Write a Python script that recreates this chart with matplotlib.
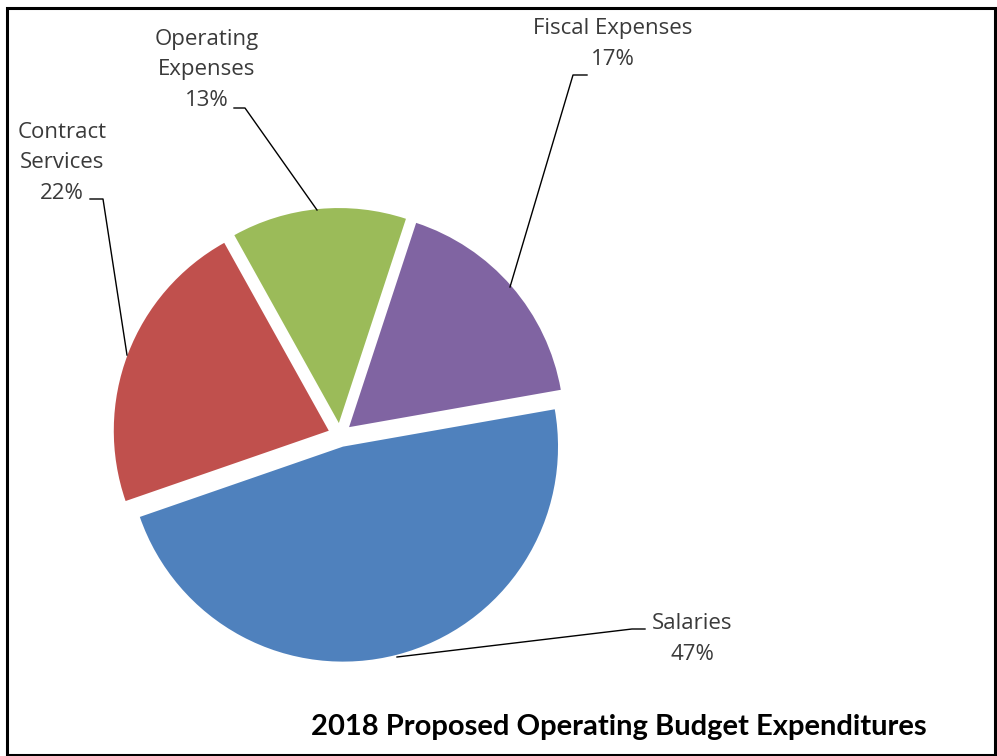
import matplotlib.pyplot as plt
from matplotlib.patches import Rectangle

# budget shares (percent)
categorias = ['Salaries', 'Contract\nServices', 'Operating\nExpenses', 'Fiscal Expenses']
valores = [47, 22, 13, 17]
cores = ['#4F81BD', '#C0504D', '#9BBB59', '#8064A2']
titulo = '2018 Proposed Operating Budget Expenditures'

W, H = 997, 756
fig = plt.figure(figsize=(W / 100, H / 100), dpi=100)
ax = fig.add_axes([0, 0, 1, 1])

# pie in pixel coordinates (y up); explode is in data units here
cx, cy, r = 340, H - 435, 215
wedges, _ = ax.pie(valores, colors=cores, startangle=10, counterclock=False,
                   explode=[12] * 4, center=(cx, cy), radius=r, frame=True,
                   wedgeprops=dict(linewidth=0))

ax.set_xlim(0, W)
ax.set_ylim(0, H)
ax.axis('off')

def rotulo(texto, x, y, linha):
    # text position and leader line given in top-down pixels
    ax.text(x, H - y, texto, ha='center', va='center', fontsize=16,
            family='Open Sans', color='#3a3a3a', linespacing=1.62)
    xs = [p[0] for p in linha]
    ys = [H - p[1] for p in linha]
    ax.plot(xs, ys, color='black', lw=1.0)

pct = [f'{v}%' for v in valores]
rotulo(f'{categorias[3]}\n{pct[3]}', 613, 44,
       [(587, 75), (573, 75), (510, 287)])
rotulo(f'{categorias[2]}\n{pct[2]}', 207, 70,
       [(234, 108), (245, 108), (317, 210)])
rotulo(f'{categorias[1]}\n{pct[1]}', 62, 163,
       [(90, 199), (103, 199), (127, 355)])
rotulo(f'{categorias[0]}\n{pct[0]}', 692, 639,
       [(397, 657), (632, 629), (645, 629)])

ax.text(619, H - 727, titulo, ha='center', va='center', fontsize=21,
        family='Lato', weight='bold', color='black')

# outer frame
fig.patches.append(Rectangle((6.5 / W, 1.5 / H), 988 / W, 747 / H,
                             transform=fig.transFigure, fill=False,
                             edgecolor='black', lw=2.2))

fig.savefig('out.png', dpi=100)
